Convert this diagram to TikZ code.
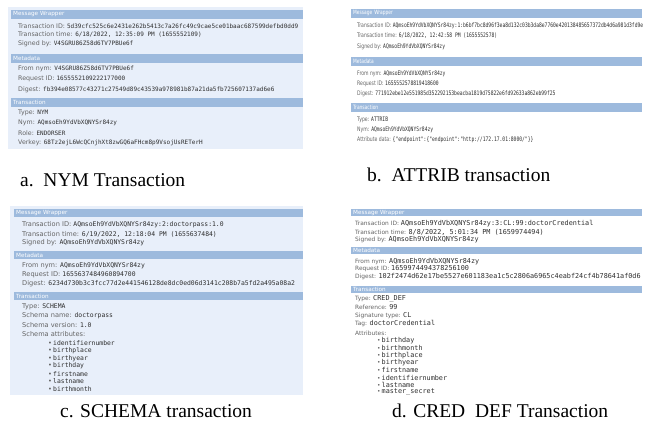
\documentclass[tikz,border=0pt]{standalone}
\usepackage{fontspec}
\setmainfont{Liberation Serif}
\newfontfamily\labfont{DejaVu Sans}
\newfontfamily\valfont{DejaVu Sans Mono}
\newfontfamily\labnarrow[FakeStretch=0.74]{DejaVu Sans}
\newfontfamily\valnarrow[FakeStretch=0.76]{DejaVu Sans Mono}

\definecolor{barblue}{RGB}{157,186,221}
\definecolor{panelbg}{RGB}{232,239,250}
\definecolor{labgray}{RGB}{100,100,100}
\definecolor{valgray}{RGB}{45,45,45}

\newcommand{\av}[1]{{\color{valgray}\valfont\fontsize{6}{7}\selectfont#1}}
\newcommand{\bv}[1]{{\color{valgray}\valnarrow\fontsize{6.15}{7}\selectfont#1}}
\newcommand{\cv}[1]{{\color{valgray}\valfont\fontsize{6.4}{7}\selectfont#1}}
\newcommand{\dv}[1]{{\color{valgray}\valfont\fontsize{6.8}{7}\selectfont#1}}

\tikzset{
  ln/.style={anchor=west, inner sep=0pt, text=labgray},
  aln/.style={ln, font=\labfont\fontsize{6.3}{7}\selectfont},
  bln/.style={ln, font=\labnarrow\fontsize{6.2}{7}\selectfont},
  cln/.style={ln, font=\labfont\fontsize{6.6}{7}\selectfont},
  dln/.style={ln, font=\labfont\fontsize{5.9}{7}\selectfont},
  bar/.style={anchor=north west, fill=barblue, text=white, inner xsep=2pt, inner ysep=0pt,
    font=\labfont\fontsize{5.7}{6}\selectfont},
  abar/.style={bar, text width=288pt, minimum height=8.5pt},
  bbar/.style={bar, text width=287pt, minimum height=8.5pt, font=\labnarrow\fontsize{5.9}{6}\selectfont},
  cbar/.style={bar, text width=285pt, minimum height=7.5pt},
  dbar/.style={bar, text width=287pt, minimum height=7pt},
  caption/.style={anchor=west, inner sep=0pt, font=\fontsize{19.5}{22}\selectfont},
}

\begin{document}
\begin{tikzpicture}[x=1pt, y=-1pt]
\useasboundingbox (0,0) rectangle (651,434);

% a. NYM
\fill[panelbg] (8,7) rectangle (303,149);
\node[abar] (aMW) at (11,10) {Message Wrapper};
\node[aln] (aTid) at (18,26) {Transaction ID: \av{5d39cfc525c6e2431e262b5413c7a26fc49c9cae5ce01baac687599defbd0dd9}};
\node[aln] (aTime) at (18,35) {Transaction time: \av{6/18/2022, 12:35:09 PM (1655552109)}};
\node[aln] (aSig) at (18,44) {Signed by: \av{V4SGRU86Z58d6TV7PBUe6f}};
\node[abar] (aMD) at (11,54) {Metadata};
\node[aln] (aFrom) at (18,69) {From nym: \av{V4SGRU86Z58d6TV7PBUe6f}};
\node[aln] (aReq) at (18,79) {Request ID: \av{1655552109222177000}};
\node[aln] (aDig) at (18,90) {Digest: \av{fb394e08577c43271c27549d89c43539a978981b87a21da5fb725607137ad6e6}};
\node[abar] (aTX) at (11,98) {Transaction};
\node[aln] (aType) at (18,113) {Type: \av{NYM}};
\node[aln] (aNym) at (18,123) {Nym: \av{AQmsoEh9YdVbXQNYSr84zy}};
\node[aln] (aRole) at (18,133) {Role: \av{ENDORSER}};
\node[aln] (aVk) at (18,143) {Verkey: \av{68Tz2ejL6WcQCnjhXt8zwGQ6aFHcm8p9VsojUsRETerH}};
\node[caption] (capA) at (20,180) {a.\ \ NYM Transaction};

% b. ATTRIB
\node[bbar] (bMW) at (351,9) {Message Wrapper};
\node[bln] (bTid) at (357,26) {Transaction ID: \bv{AQmsoEh9YdVbXQNYSr84zy:1:b6bf7bc8d96f3ea8d132c03b3da8e7760e420138485657372db4d6a981d3fd9e}};
\node[bln] (bTime) at (357,36) {Transaction time: \bv{6/18/2022, 12:42:58 PM (1655552578)}};
\node[bln] (bSig) at (357,47) {Signed by: \bv{AQmsoEh9YdVbXQNYSr84zy}};
\node[bbar] (bMD) at (351,57) {Metadata};
\node[bln] (bFrom) at (357,74) {From nym: \bv{AQmsoEh9YdVbXQNYSr84zy}};
\node[bln] (bReq) at (357,84) {Request ID: \bv{1655552578819418600}};
\node[bln] (bDig) at (357,94) {Digest: \bv{771912ebe12e551985d352292153beacba1819d75822e6fd92633a862eb99f25}};
\node[bbar] (bTX) at (351,103) {Transaction};
\node[bln] (bType) at (357,120) {Type: \bv{ATTRIB}};
\node[bln] (bNym) at (357,130) {Nym: \bv{AQmsoEh9YdVbXQNYSr84zy}};
\node[bln] (bAttr) at (357,140) {Attribute data: \bv{\{"endpoint":\{"endpoint":"http://172.17.01:8000/"\}\}}};
\node[caption] (capB) at (367,175) {b.\ \ ATTRIB transaction};

% c. SCHEMA
\fill[panelbg] (10,206) rectangle (303,395);
\node[cbar] (cMW) at (14,209) {Message Wrapper};
\node[cln] (cTid) at (22,225) {Transaction ID: \cv{AQmsoEh9YdVbXQNYSr84zy:2:doctorpass:1.0}};
\node[cln] (cTime) at (22,234) {Transaction time: \cv{6/19/2022, 12:18:04 PM (1655637484)}};
\node[cln] (cSig) at (22,243) {Signed by: \cv{AQmsoEh9YdVbXQNYSr84zy}};
\node[cbar] (cMD) at (14,251) {Metadata};
\node[cln] (cFrom) at (22,266) {From nym: \cv{AQmsoEh9YdVbXQNYSr84zy}};
\node[cln] (cReq) at (22,275) {Request ID: \cv{1655637484960894700}};
\node[cln] (cDig) at (22,284) {Digest: \cv{6234d730b3c3fcc77d2e441546128de8dc0ed06d3141c208b7a5fd2a495a08a2}};
\node[cbar] (cTX) at (14,292) {Transaction};
\node[cln] (cType) at (22,307) {Type: \cv{SCHEMA}};
\node[cln] (cName) at (22,316) {Schema name: \cv{doctorpass}};
\node[cln] (cVer) at (22,325) {Schema version: \cv{1.0}};
\node[cln] (cAttr) at (22,334) {Schema attributes:};
\foreach \t [count=\i] in {identifiernumber,birthplace,birthyear,birthday,firstname,lastname,birthmonth}
  \node[cln] (cAt\i) at (48,{343+7.7*(\i-1)}) {•\,\cv{\t}};
\node[caption] (capC) at (60,411) {c. SCHEMA transaction};

% d. CRED_DEF
\node[dbar] (dMW) at (351,209) {Message Wrapper};
\node[dln] (dTid) at (355,224) {Transaction ID: \dv{AQmsoEh9YdVbXQNYSr84zy:3:CL:99:doctorCredential}};
\node[dln] (dTime) at (355,232) {Transaction time: \dv{8/8/2022, 5:01:34 PM (1659974494)}};
\node[dln] (dSig) at (355,239.5) {Signed by: \dv{AQmsoEh9YdVbXQNYSr84zy}};
\node[dbar] (dMD) at (351,247) {Metadata};
\node[dln] (dFrom) at (355,262) {From nym: \dv{AQmsoEh9YdVbXQNYSr84zy}};
\node[dln] (dReq) at (355,269) {Request ID: \dv{1659974494378256100}};
\node[dln] (dDig) at (355,277) {Digest: \dv{102f2474d62e17be5527e601183ea1c5c2806a6965c4eabf24cf4b78641af0d6}};
\node[dbar] (dTX) at (351,286) {Transaction};
\node[dln] (dType) at (355,299) {Type: \dv{CRED\_DEF}};
\node[dln] (dRef) at (355,307) {Reference: \dv{99}};
\node[dln] (dSigT) at (355,316) {Signature type: \dv{CL}};
\node[dln] (dTag) at (355,324) {Tag: \dv{doctorCredential}};
\node[dln] (dAttr) at (355,333) {Attributes:};
\foreach \t [count=\i] in {birthday,birthmonth,birthplace,birthyear,firstname,identifiernumber,lastname,master\_secret}
  \node[dln] (dAt\i) at (377,{341+7.3*(\i-1)}) {•\,\dv{\t}};
\node[caption] (capD) at (392,411) {d. CRED\ \ DEF Transaction};
\end{tikzpicture}
\end{document}
